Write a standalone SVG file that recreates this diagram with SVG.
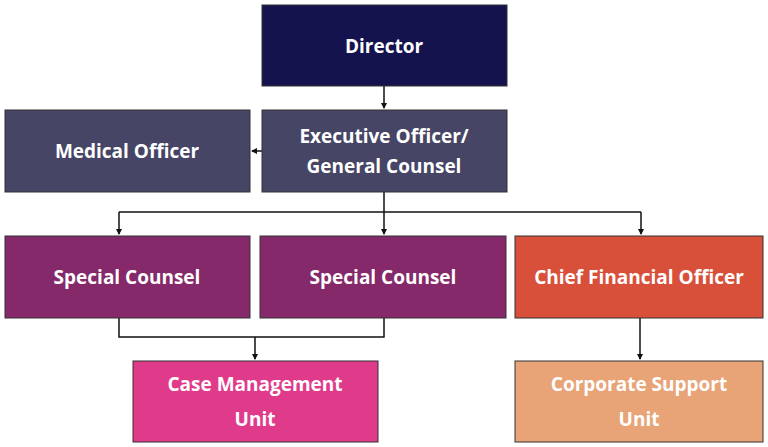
<svg xmlns="http://www.w3.org/2000/svg" width="768" height="447" viewBox="0 0 768 447">
<style>
.b{stroke:#333;stroke-width:1}
.t{font-family:"Open Sans","Liberation Sans",sans-serif;font-weight:bold;font-size:19px;fill:#fff;text-anchor:middle}
.c{fill:none;stroke:#111;stroke-width:1.5}
</style>
<defs><marker id="a" markerWidth="6" markerHeight="6" refX="5" refY="3" orient="auto" markerUnits="userSpaceOnUse"><path d="M0,0L6,3L0,6z" fill="#111"/></marker></defs>
<rect width="768" height="447" fill="#fff"/>
<g id="connectors">
<path class="c" d="M384,86V108" marker-end="url(#a)"/>
<path class="c" d="M262,151H252" marker-end="url(#a)"/>
<path class="c" d="M384,192V234" marker-end="url(#a)"/>
<path class="c" d="M119,212H641"/>
<path class="c" d="M119,212V234" marker-end="url(#a)"/>
<path class="c" d="M641,212V234" marker-end="url(#a)"/>
<path class="c" d="M119,318V337H384V318"/>
<path class="c" d="M255,337V359" marker-end="url(#a)"/>
<path class="c" d="M640,318V359" marker-end="url(#a)"/>
</g>
<g id="director"><rect class="b" x="262" y="5" width="245" height="81" fill="#15134e"/><text class="t" x="384" y="53">Director</text></g>
<g id="exec"><rect class="b" x="262" y="110" width="245" height="82" fill="#464565"/><text class="t" x="384" y="143">Executive Officer/</text><text class="t" x="384" y="173">General Counsel</text></g>
<g id="medical"><rect class="b" x="5" y="110" width="245" height="82" fill="#464565"/><text class="t" x="127" y="158">Medical Officer</text></g>
<g id="sc1"><rect class="b" x="5" y="236" width="245" height="82" fill="#85296b"/><text class="t" x="127" y="284">Special Counsel</text></g>
<g id="sc2"><rect class="b" x="260" y="236" width="246" height="82" fill="#85296b"/><text class="t" x="383" y="284">Special Counsel</text></g>
<g id="cfo"><rect class="b" x="515" y="236" width="248" height="82" fill="#d9503a"/><text class="t" x="639" y="284">Chief Financial Officer</text></g>
<g id="cmu"><rect class="b" x="133" y="361" width="245" height="81" fill="#e03b8b"/><text class="t" x="255" y="391">Case Management</text><text class="t" x="255" y="426">Unit</text></g>
<g id="csu"><rect class="b" x="515" y="361" width="248" height="81" fill="#e8a377"/><text class="t" x="639" y="391">Corporate Support</text><text class="t" x="639" y="426">Unit</text></g>
</svg>
